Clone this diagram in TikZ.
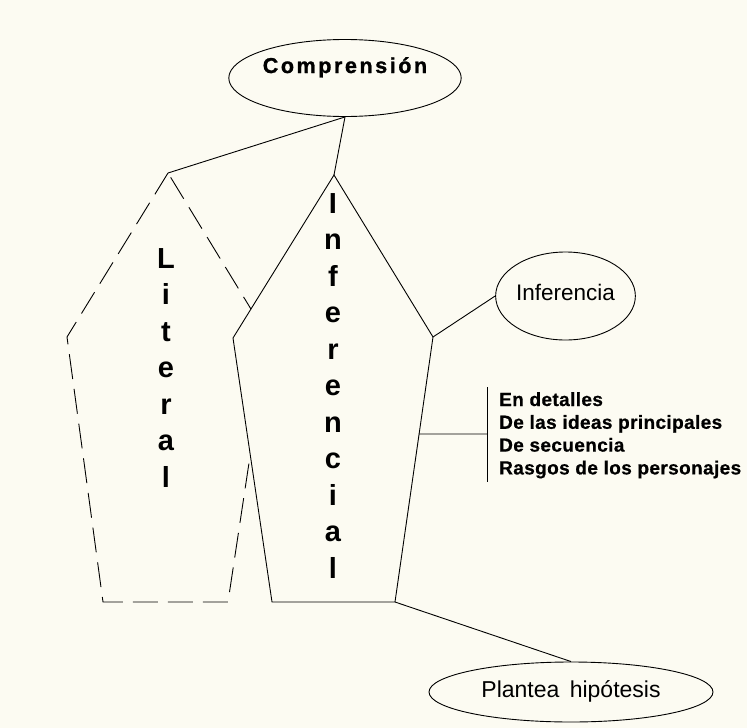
\documentclass[tikz,border=0pt]{standalone}
\usepackage{fontspec}
\setmainfont{Liberation Sans}
\usetikzlibrary{shapes.geometric,calc}
\definecolor{bgcol}{RGB}{252,251,242}
\begin{document}
\begin{tikzpicture}[x=1pt,y=-1pt,
  ln/.style={line width=0.9pt, black},
  oval/.style={ellipse, draw, line width=0.9pt, inner sep=0pt, fill=bgcol},
  vletter/.style={font=\fontsize{29}{29}\selectfont\bfseries, anchor=base, inner sep=0pt},
  dtext/.style={font=\fontsize{19}{19}\selectfont\bfseries\addfontfeatures{LetterSpace=2,FakeBold=0.6}, anchor=base west, inner sep=0pt},
  dashbox/.style={ln, dash pattern=on 25pt off 10pt, fill=bgcol},
]
\fill[bgcol] (0,0) rectangle (747,728);
\useasboundingbox (0,0) rectangle (747,728);

% Literal shape (dashed)
\coordinate (la) at (168,173);
\coordinate (ll) at (67,337);
\coordinate (lb1) at (103,602);
\coordinate (lb2) at (228,602);
\coordinate (lr) at (268,337);
\draw[dashbox] (la) -- (ll) -- (lb1) -- (lb2) -- (lr) -- cycle;

% Inferencial shape (solid, in front)
\coordinate (ia) at (334,175);
\coordinate (il) at (233,338);
\coordinate (ib1) at (272,602);
\coordinate (ib2) at (395,602);
\coordinate (ir) at (433,337);
\draw[ln, fill=bgcol] (ia) -- (il) -- (ib1) -- (ib2) -- (ir) -- cycle;

% Ovals
\node[oval, minimum width=216pt, minimum height=77pt] (comp) at (345,78)
  {\raisebox{5pt}[0pt][0pt]{\fontsize{21.5}{21.5}\selectfont\bfseries\addfontfeatures{LetterSpace=12,FakeBold=1.2}Comprensión}};
\node[oval, minimum width=133pt, minimum height=88pt] (inf) at (565.5,296)
  {\raisebox{-4pt}[0pt][0pt]{\fontsize{22.5}{22.5}\selectfont Inferencia}};
\node[oval, minimum width=284pt, minimum height=60pt] (plan) at (571,692)
  {\raisebox{-5pt}[0pt][0pt]{\fontsize{23}{23}\selectfont Plantea\hspace{4pt} hipótesis}};

% Connectors
\draw[ln] (comp.south) -- (la);
\draw[ln] (comp.south) -- (ia);
\draw[ln] (ir) -- (inf.west);
\draw[ln] (ib2) -- (plan.north);

% Bracket
\coordinate (bk) at ($(ir)!0.366!(ib2)$);
\coordinate (bm) at (487,434);
\coordinate (bt) at (487,387);
\coordinate (bb) at (487,482);
\draw[ln] (bk) -- (bm);
\draw[ln] (bt) -- (bb);
\node[dtext] (d1) at (499,406) {En detalles};
\node[dtext] (d2) at (499,428.8) {De las ideas principales};
\node[dtext] (d3) at (499,451.6) {De secuencia};
\node[dtext] (d4) at (499,474.4) {Rasgos de los personajes};

% Vertical words
\foreach \ch [count=\i] in {L,i,t,e,r,a,l}
  \node[vletter] (lit\i) at (166,{268+(\i-1)*36.5}) {\ch};
\foreach \ch [count=\i] in {I,n,f,e,r,e,n,c,i,a,l}
  \node[vletter] (inf\i) at (333,{213+(\i-1)*36.5}) {\ch};
\end{tikzpicture}
\end{document}
